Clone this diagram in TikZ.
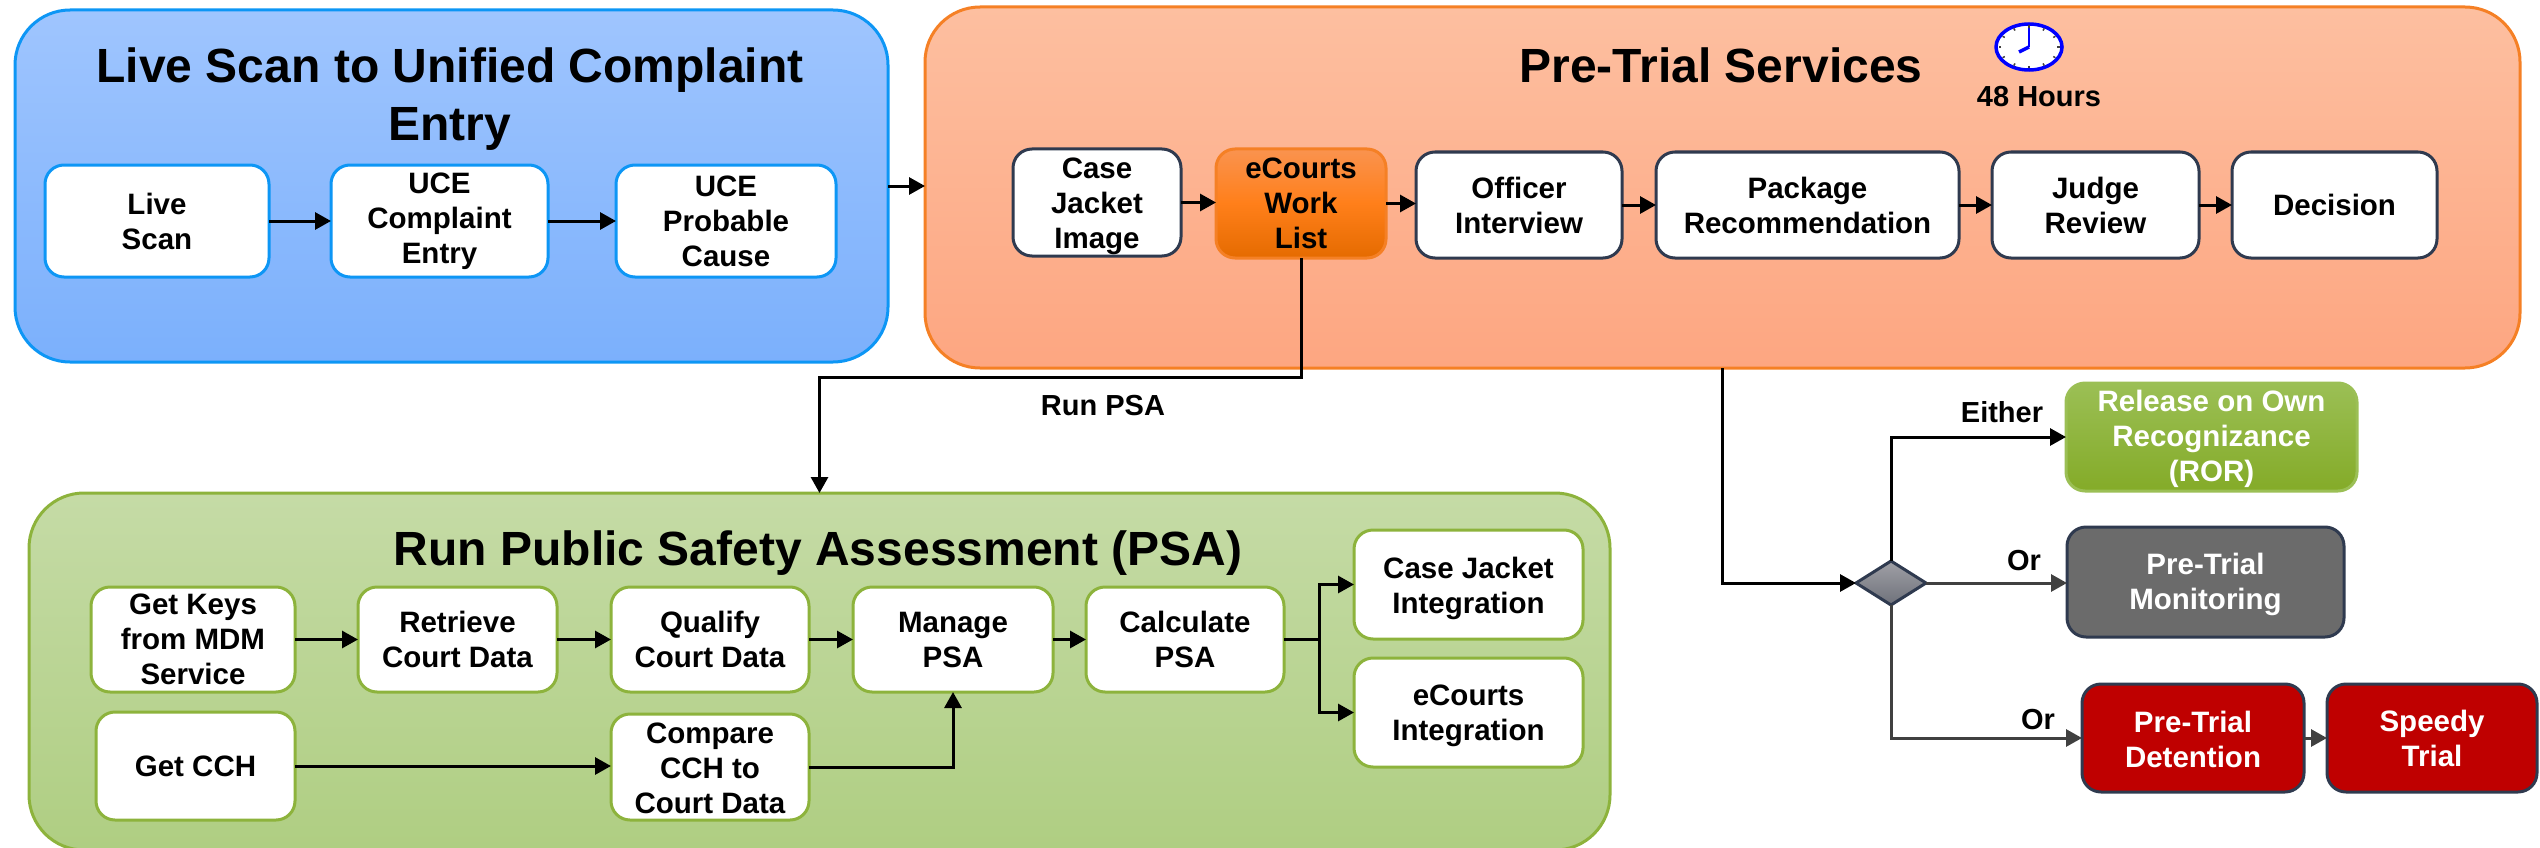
\documentclass[tikz,border=0pt]{standalone}
\usepackage{fontspec}
\setmainfont{Liberation Sans}
\usetikzlibrary{arrows.meta,shapes.geometric}
\newcommand{\dropline}[1]{\rule{0pt}{#1}}
\definecolor{bluerim}{HTML}{0D96F5}
\definecolor{bluetop}{HTML}{9FC5FE}
\definecolor{bluelow}{HTML}{7BB0FC}
\definecolor{orangerim}{HTML}{F58025}
\definecolor{orangetop}{HTML}{FDBFA0}
\definecolor{orangelow}{HTML}{FDA681}
\definecolor{greenrim}{HTML}{8DB33C}
\definecolor{greentop}{HTML}{C5DBA6}
\definecolor{greenlow}{HTML}{AFCE82}
\definecolor{slaterim}{HTML}{2F3A4F}
\definecolor{darkline}{HTML}{404040}
\definecolor{worktop}{HTML}{FA934F}
\definecolor{workmid}{HTML}{FF7F1A}
\definecolor{worklow}{HTML}{E56B00}
\definecolor{rortop}{HTML}{9BBF55}
\definecolor{rorlow}{HTML}{84AB28}
\definecolor{monitorgrey}{HTML}{6B6B6B}
\definecolor{trialred}{HTML}{BF0000}
\definecolor{choicetop}{HTML}{A0A0A6}
\definecolor{choicelow}{HTML}{6E717A}
\tikzset{
    panel/.style={draw,line width=3pt,rounded corners=55pt,inner sep=0pt,outer sep=0pt},
    panelblue/.style={panel,draw=bluerim,top color=bluetop,bottom color=bluelow},
    panelorange/.style={panel,draw=orangerim,top color=orangetop,bottom color=orangelow},
    panelgreen/.style={panel,draw=greenrim,top color=greentop,bottom color=greenlow},
    title/.style={align=center,font=\fontsize{48}{58}\selectfont\bfseries,inner sep=0pt},
    stepbox/.style={draw,line width=3pt,rounded corners=19pt,fill=white,align=center,inner sep=0pt,outer sep=0pt,
        font=\fontsize{29.5}{35}\selectfont\bfseries},
    bluebox/.style={stepbox,draw=bluerim},
    slatebox/.style={stepbox,draw=slaterim},
    greenbox/.style={stepbox,draw=greenrim},
    tag/.style={font=\fontsize{29}{35}\selectfont\bfseries,inner sep=0pt},
    arrow/.style={line width=3pt,-{Triangle[length=16pt,width=17pt]}},
    greyarrow/.style={arrow,draw=darkline}
}
\begin{document}
\begin{tikzpicture}[x=1pt,y=-1pt]
        \useasboundingbox (0,0) rectangle (2540,848);
        \node[panelblue,minimum width=873pt,minimum height=352pt] (scan) at (451.5,186) {};
        \node[panelorange,minimum width=1595pt,minimum height=361pt] (pretrial) at (1722.5,187.5) {};
        \node[panelgreen,minimum width=1581pt,minimum height=357pt] (psa) at (819.5,671.5) {};
        \node[title] (scantitle) at (450,99) {Live Scan to Unified Complaint\\Entry};
        \node[title] (pretrialtitle) at (1721,65) {Pre-Trial Services};
        \node[title] (psatitle) at (818,553) {Run Public Safety Assessment (PSA)};
        \node[bluebox,minimum width=224pt,minimum height=112pt] (live) at (157,221) {Live\\Scan};
        \node[bluebox,minimum width=217pt,minimum height=112pt] (entry) at (439.5,221) {UCE\\Complaint\\Entry};
        \node[bluebox,minimum width=220pt,minimum height=112pt] (cause) at (726,221) {UCE\\Probable\\Cause};
        \node[slatebox,minimum width=168pt,minimum height=107pt] (image) at (1097,202.5) {\dropline{29pt}Case\\Jacket\\Image};
        \node[stepbox,draw=orangerim,top color=worktop,bottom color=worklow,middle color=workmid,
            minimum width=170pt,minimum height=109pt] (ecourts) at (1301,203.5) {eCourts\\Work\\List};
        \node[slatebox,minimum width=206pt,minimum height=106pt] (officer) at (1519,205) {Officer\\Interview};
        \node[slatebox,minimum width=303pt,minimum height=106pt] (package) at (1807.5,205) {Package\\Recommendation};
        \node[slatebox,minimum width=207pt,minimum height=106pt] (judge) at (2095.5,205) {Judge\\Review};
        \node[slatebox,minimum width=205pt,minimum height=106pt] (decision) at (2334.5,205) {Decision};
        \node[draw=blue,line width=3.5pt,fill=white,ellipse,minimum width=66pt,minimum height=46pt,inner sep=0pt] (clock) at (2029,47) {};
        \foreach \a in {0,30,...,330}
            \draw[line width=1.5pt,darkline] (clock.center) ++(\a:28 and 19) -- ++(\a:2.5 and 2.5);
        \draw[line width=2.5pt,blue] (clock.center) -- ++(0,-19);
        \draw[line width=3.5pt,blue] (clock.center) -- ++(-10,5);
        \node[tag] (hours) at (2039,97) {48 Hours};
        \node[greenbox,minimum width=204pt,minimum height=105pt] (keys) at (193,639.5) {Get Keys\\from MDM\\Service};
        \node[greenbox,minimum width=199pt,minimum height=105pt] (retrieve) at (457.5,639.5) {Retrieve\\Court Data};
        \node[greenbox,minimum width=198pt,minimum height=105pt] (qualify) at (710,639.5) {Qualify\\Court Data};
        \node[greenbox,minimum width=200pt,minimum height=105pt] (manage) at (953,639.5) {Manage\\PSA};
        \node[greenbox,minimum width=198pt,minimum height=105pt] (calculate) at (1185,639.5) {Calculate\\PSA};
        \node[greenbox,minimum width=229pt,minimum height=109pt] (jacket) at (1468.5,584.5) {\dropline{29pt}Case Jacket\\Integration};
        \node[greenbox,minimum width=229pt,minimum height=109pt] (integration) at (1468.5,712.5) {\dropline{27pt}eCourts\\Integration};
        \node[greenbox,minimum width=199pt,minimum height=108pt] (cch) at (195.5,766) {Get CCH};
        \node[greenbox,minimum width=198pt,minimum height=106pt] (compare) at (710,767) {\dropline{24pt}Compare\\CCH to\\Court Data};
        \node[diamond,draw=slaterim,line width=3pt,top color=choicetop,bottom color=choicelow,
            minimum width=70pt,minimum height=44pt,inner sep=0pt,outer sep=0pt] (choice) at (1891,583) {};
        \node[stepbox,draw=rortop,top color=rortop,bottom color=rorlow,text=white,
            minimum width=291pt,minimum height=108pt] (ror) at (2211.5,437) {\dropline{25pt}Release on Own\\Recognizance\\(ROR)};
        \node[stepbox,draw=slaterim,fill=monitorgrey,text=white,minimum width=277pt,minimum height=110pt] (monitor) at (2205.5,582) {\dropline{27pt}Pre-Trial\\Monitoring};
        \node[stepbox,draw=slaterim,fill=trialred,text=white,minimum width=222pt,minimum height=108pt] (detention) at (2193,738) {\dropline{24pt}Pre-Trial\\Detention};
        \node[stepbox,draw=slaterim,fill=trialred,text=white,minimum width=210pt,minimum height=108pt] (speedy) at (2432,738) {Speedy\\Trial};
        \node[tag] (either) at (2002,412) {Either};
        \node[tag] (ormonitor) at (2024,561) {Or};
        \node[tag] (ordetention) at (2038,720) {Or};
        \node[tag] (runpsa) at (1103,406) {Run PSA};
        \draw[arrow] (live.east) -- (entry.west);
        \draw[arrow] (entry.east) -- (cause.west);
        \draw[arrow] (scan.east) -- (scan.east -| pretrial.west);
        \draw[arrow] (image.east) -- (image.east -| ecourts.west);
        \draw[arrow] (ecourts.east) -- (ecourts.east -| officer.west);
        \draw[arrow] (officer.east) -- (package.west);
        \draw[arrow] (package.east) -- (judge.west);
        \draw[arrow] (judge.east) -- (decision.west);
        \draw[arrow] (ecourts.south) -- ++(0,119) -| (psa.north);
        \draw[arrow] (pretrial.south) |- (choice.west);
        \draw[arrow] (choice.north) |- (ror.west);
        \draw[greyarrow] (choice.east) -- (choice.east -| monitor.west);
        \draw[greyarrow] (choice.south) |- (detention.west);
        \draw[greyarrow] (detention.east) -- (speedy.west);
        \draw[arrow] (keys.east) -- (retrieve.west);
        \draw[arrow] (retrieve.east) -- (qualify.west);
        \draw[arrow] (qualify.east) -- (manage.west);
        \draw[arrow] (manage.east) -- (calculate.west);
        \draw[arrow] (cch.east) -- (cch.east -| compare.west);
        \draw[arrow] (compare.east) -| (manage.south);
        \coordinate (fork) at (1319,639.5);
        \draw[line width=3pt] (calculate.east) -- (fork);
        \draw[arrow] (fork) |- (jacket.west);
        \draw[arrow] (fork) |- (integration.west);
    \end{tikzpicture}
\end{document}
